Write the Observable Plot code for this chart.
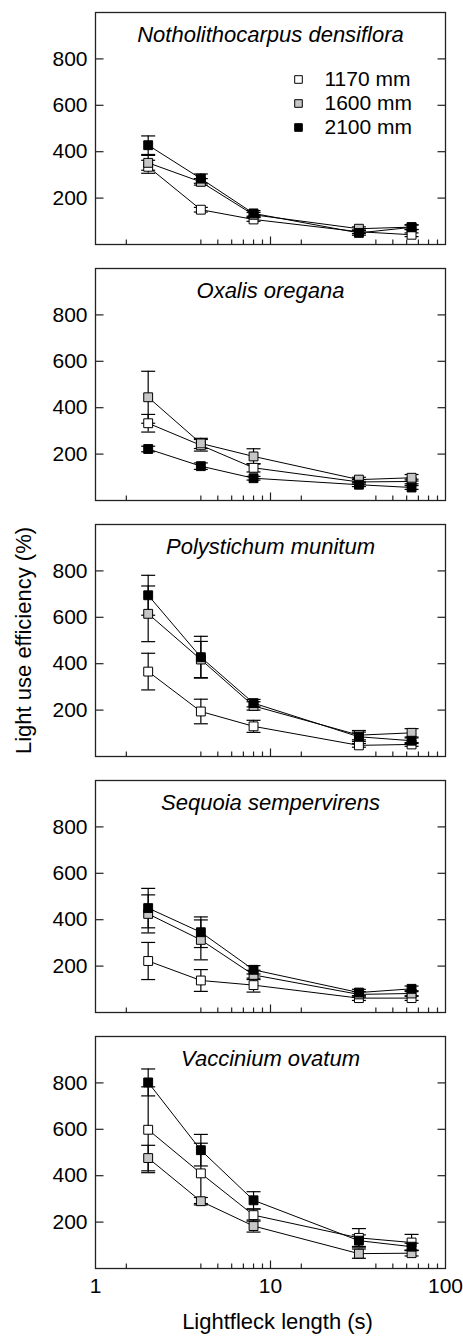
<!DOCTYPE html>
<html>
<head>
<meta charset="utf-8">
<script src="https://cdn.jsdelivr.net/npm/d3@7"></script>
<script src="https://cdn.jsdelivr.net/npm/@observablehq/plot@0.6"></script>
<style>
  html, body { margin: 0; padding: 0; background: #fff; }
  svg { display: block; }
</style>
</head>
<body>
<div id="chart"></div>
<script>
// ---------- data ----------
const lengths = [2, 4, 8, 32, 64];
const species = ["Notholithocarpus densiflora", "Oxalis oregana", "Polystichum munitum", "Sequoia sempervirens", "Vaccinium ovatum"];
const series = ["1170 mm", "1600 mm", "2100 mm"];
const seriesFill = ["#ffffff", "#c6c6c6", "#000000"];
const yTicks = [200, 400, 600, 800];
const xLabels = [1, 10, 100];
const xMinorTicks = [1.5, 4, 5, 6, 7, 8, 9, 15, 40, 50, 60, 70, 80, 90];
const xMajorTicks = [10];

const notho1170 = [335, 150, 108, 55, 42];
const notho1170Err = [28, 10, 8, 8, 8];
const notho1600 = [352, 270, 128, 68, 75];
const notho1600Err = [32, 14, 10, 8, 10];
const notho2100 = [428, 284, 134, 50, 74];
const notho2100Err = [40, 20, 12, 10, 10];

const oxalis1170 = [333, 238, 141, 80, 82];
const oxalis1170Err = [38, 25, 18, 10, 10];
const oxalis1600 = [445, 246, 190, 90, 98];
const oxalis1600Err = [112, 22, 33, 10, 14];
const oxalis2100 = [222, 148, 96, 68, 56];
const oxalis2100Err = [12, 14, 8, 8, 8];

const polyst1170 = [366, 194, 130, 48, 52];
const polyst1170Err = [79, 53, 26, 8, 8];
const polyst1600 = [615, 418, 218, 92, 102];
const polyst1600Err = [120, 78, 18, 20, 18];
const polyst2100 = [695, 428, 230, 85, 68];
const polyst2100Err = [86, 90, 16, 20, 12];

const sequoia1170 = [222, 138, 118, 62, 62];
const sequoia1170Err = [80, 47, 30, 10, 10];
const sequoia1600 = [425, 313, 162, 78, 82];
const sequoia1600Err = [82, 86, 20, 12, 12];
const sequoia2100 = [450, 346, 184, 86, 102];
const sequoia2100Err = [85, 66, 18, 14, 12];

const vacc1170 = [598, 410, 230, 132, 112];
const vacc1170Err = [185, 130, 26, 40, 35];
const vacc1600 = [476, 290, 183, 64, 66];
const vacc1600Err = [55, 16, 26, 20, 12];
const vacc2100 = [802, 510, 294, 120, 94];
const vacc2100Err = [58, 68, 37, 25, 15];

// ---------- table ----------
const means = [
  [notho1170, notho1600, notho2100],
  [oxalis1170, oxalis1600, oxalis2100],
  [polyst1170, polyst1600, polyst2100],
  [sequoia1170, sequoia1600, sequoia2100],
  [vacc1170, vacc1600, vacc2100]
];
const errs = [
  [notho1170Err, notho1600Err, notho2100Err],
  [oxalis1170Err, oxalis1600Err, oxalis2100Err],
  [polyst1170Err, polyst1600Err, polyst2100Err],
  [sequoia1170Err, sequoia1600Err, sequoia2100Err],
  [vacc1170Err, vacc1600Err, vacc2100Err]
];
const rows = [];
species.forEach((sp, si) => series.forEach((se, k) => lengths.forEach((x, j) => {
  const y = means[si][k][j], e = errs[si][k][j];
  rows.push({species: sp, series: se, k, x, y, lo: y - e, hi: y + e});
})));

// ---------- custom symbols (pixel-sized strokes) ----------
const capSymbol = {draw(c) { c.moveTo(-7, 0); c.lineTo(7, 0); }};
const tickUpMinor = {draw(c) { c.moveTo(0, 0); c.lineTo(0, -5); }};
const tickUpMajor = {draw(c) { c.moveTo(0, 0); c.lineTo(0, -8); }};
const tickInRight = {draw(c) { c.moveTo(0, 0); c.lineTo(8, 0); }};
const tickInLeft = {draw(c) { c.moveTo(0, 0); c.lineTo(-8, 0); }};

const W = 463, H = 1337;
const font = "'Liberation Sans', Arial, Helvetica, sans-serif";

const marks = [];
// error bars
series.forEach((se, k) => {
  const d = rows.filter(r => r.k === k);
  marks.push(Plot.ruleX(d, {x: "x", y1: "lo", y2: "hi", fy: "species", stroke: "#000", strokeWidth: 1.2}));
  marks.push(Plot.dot(d, {x: "x", y: "hi", fy: "species", symbol: capSymbol, fill: "none", stroke: "#000", strokeWidth: 1.2}));
  marks.push(Plot.dot(d, {x: "x", y: "lo", fy: "species", symbol: capSymbol, fill: "none", stroke: "#000", strokeWidth: 1.2}));
});
// lines
series.forEach((se, k) => {
  const d = rows.filter(r => r.k === k);
  marks.push(Plot.line(d, {x: "x", y: "y", z: "species", fy: "species", stroke: "#000", strokeWidth: 1}));
});
// markers
series.forEach((se, k) => {
  const d = rows.filter(r => r.k === k);
  marks.push(Plot.dot(d, {x: "x", y: "y", fy: "species", symbol: "square", r: 5, fill: seriesFill[k], stroke: "#000", strokeWidth: 1}));
});

// legend (first panel)
series.forEach((se, k) => {
  marks.push(Plot.dot([se], {fy: () => species[0], frameAnchor: "top-right", dx: -147, dy: 67 + k * 24,
    symbol: "square", r: 4.3, fill: seriesFill[k], stroke: "#000", strokeWidth: 1}));
  marks.push(Plot.text([se], {fy: () => species[0], frameAnchor: "top-right", dx: -121, dy: 67 + k * 24,
    text: d => d, textAnchor: "start", lineAnchor: "middle", fontSize: 21, fill: "#000"}));
});

// titles
marks.push(Plot.text(species, {fy: d => d, text: d => d, frameAnchor: "top", dy: 22, lineAnchor: "middle", textAnchor: "middle",
  fontSize: 22, fontStyle: "italic", fill: "#000"}));

// inward ticks
marks.push(Plot.dot(yTicks, {y: d => d, frameAnchor: "left", symbol: tickInRight, fill: "none", stroke: "#222", strokeWidth: 1.2}));
marks.push(Plot.dot(yTicks, {y: d => d, frameAnchor: "right", symbol: tickInLeft, fill: "none", stroke: "#222", strokeWidth: 1.2}));
marks.push(Plot.dot(xMinorTicks, {x: d => d, frameAnchor: "bottom", symbol: tickUpMinor, fill: "none", stroke: "#222", strokeWidth: 1.2}));
marks.push(Plot.dot(xMajorTicks, {x: d => d, frameAnchor: "bottom", symbol: tickUpMajor, fill: "none", stroke: "#222", strokeWidth: 1.2}));

// axes labels
marks.push(Plot.axisY(yTicks, {tickSize: 0, tickPadding: 8, fontSize: 21, label: null, fill: "#000"}));
marks.push(Plot.axisX(xLabels, {tickSize: 0, tickPadding: 10, fontSize: 21, label: null, tickFormat: d => String(d), fill: "#000"}));

marks.push(Plot.text(["Light use efficiency (%)"], {fy: () => species[2], frameAnchor: "left", dx: -72, rotate: -90,
  textAnchor: "middle", lineAnchor: "middle", text: d => d, fontSize: 22, fill: "#000"}));
marks.push(Plot.text(["Lightfleck length (s)"], {fy: () => species[4], frameAnchor: "bottom", dy: 53, dx: 7,
  textAnchor: "middle", lineAnchor: "middle", text: d => d, fontSize: 22, fill: "#000"}));

marks.push(Plot.frame({stroke: "#222", strokeWidth: 1.3}));

const chart = Plot.plot({
  width: W,
  height: H,
  marginLeft: 95,
  marginRight: 18,
  marginTop: 10,
  marginBottom: 66,
  style: {fontFamily: font, fontSize: "21px", color: "#000", background: "#fff"},
  x: {type: "log", domain: [1, 100]},
  y: {domain: [0, 1000]},
  fy: {domain: species, axis: null, paddingInner: 0.093, paddingOuter: 0},
  marks
});
document.getElementById("chart").appendChild(chart);
</script>
</body>
</html>
